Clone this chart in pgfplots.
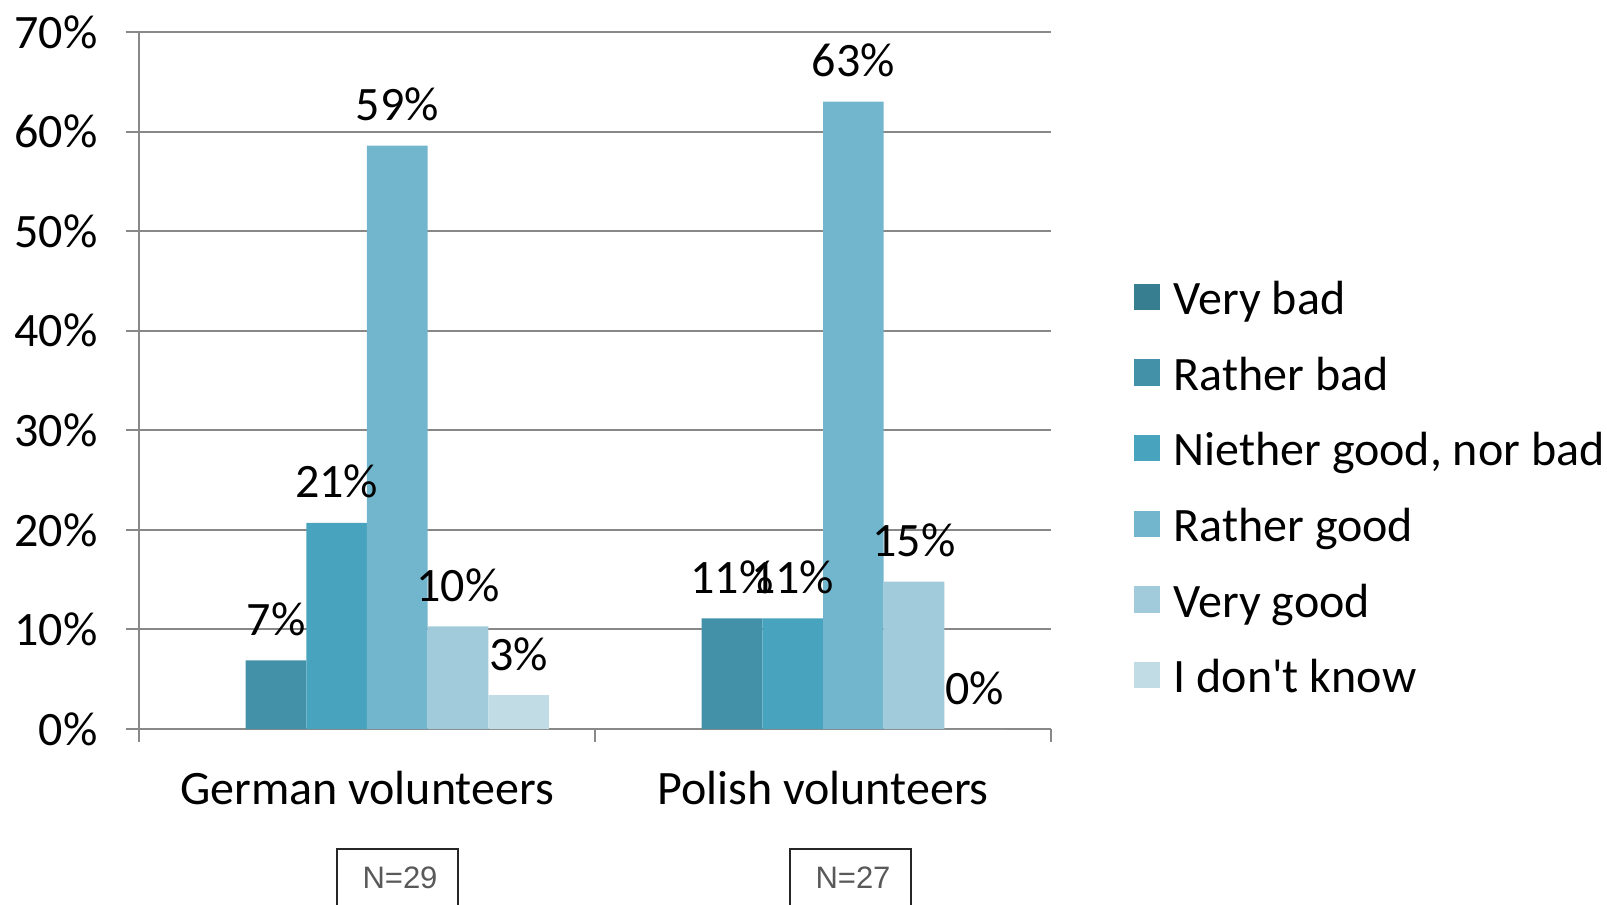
\documentclass[border=0pt]{standalone}
\usepackage{pgfplots}
\pgfplotsset{compat=1.18}
\usepackage{fontspec}
\setmainfont{Carlito}
\newfontfamily\plainf{Carlito}
\newfontfamily\arialf{Liberation Sans}
\definecolor{cVB}{HTML}{377E91}
\definecolor{cRB}{HTML}{4391A9}
\definecolor{cNG}{HTML}{48A4BE}
\definecolor{cRG}{HTML}{71B6CD}
\definecolor{cVG}{HTML}{A1CADB}
\definecolor{cDK}{HTML}{C1DCE5}
\definecolor{axgray}{HTML}{888888}
\definecolor{ngray}{HTML}{595959}
\newcommand{\bigf}{\fontsize{14.4}{16}\selectfont}
\pgfplotsset{
  mybar/.style 2 args={ybar, bar width=18.2pt, bar shift=#2, draw=none, fill=#1,
    point meta=explicit symbolic,
    nodes near coords={\pgfplotspointmeta},
    every node near coord/.append style={anchor=base, xshift=#2, yshift=7.5pt, text=black, font=\bigf},
    legend image code/.code={\fill[#1] (0pt,-2.9pt) rectangle (7.9pt,5.0pt);}},
}
\begin{document}
\begin{tikzpicture}
\useasboundingbox (-41.7pt,-52.5pt) rectangle (440.4pt,218.7pt);
\begin{axis}[
  scale only axis, width=273.6pt, height=209.1pt,
  xmin=-0.5, xmax=1.5, ymin=0, ymax=70,
  axis x line*=bottom, axis y line*=left,
  axis line style={-, draw=axgray, line width=0.6pt},
  every tick/.style={draw=axgray, line width=0.6pt},
  tick align=outside,
  major tick length=4pt,
  minor tick length=4pt,
  ytick={0,10,...,70},
  yticklabel={\pgfmathprintnumber{\tick}\%},
  /pgf/number format/assume math mode=true,
  y tick label style={font=\bigf, inner sep=0pt, xshift=-8.3pt},
  ymajorgrids, grid style={draw=axgray, line width=0.6pt},
  xtick={0,1},
  xticklabels={German volunteers, Polish volunteers},
  major x tick style={draw=none},
  minor xtick={-0.5,0.5,1.5},
  x tick label style={font=\bigf, anchor=base, yshift=-18.6pt, inner sep=0pt},
  clip=false,
  legend style={at={(1.0899,0.3436)}, anchor=west, draw=none, fill=none,
    font=\bigf, inner sep=0pt, row sep=7.2pt, column sep=2.1pt,
    cells={anchor=west, inner sep=0pt, text height=10pt, text depth=3pt}},
  legend cell align=left,
]
\addlegendimage{mybar={cVB}{-45.5pt}}
\addlegendentry{Very bad}
\addplot[mybar={cRB}{-27.3pt}] coordinates {(0,6.9) [7\%] (1,11.1) [11\%]};
\addlegendentry{Rather bad}
\addplot[mybar={cNG}{-9.1pt}] coordinates {(0,20.7) [21\%] (1,11.1) [11\%]};
\addlegendentry{Niether good, nor bad}
\addplot[mybar={cRG}{9.1pt}] coordinates {(0,58.6) [59\%] (1,63.0) [63\%]};
\addlegendentry{Rather good}
\addplot[mybar={cVG}{27.3pt}] coordinates {(0,10.3) [10\%] (1,14.8) [15\%]};
\addlegendentry{Very good}
\addplot[mybar={cDK}{45.5pt}] coordinates {(0,3.4) [3\%] (1,0) [0\%]};
\addlegendentry{I don{\plainf '}t know}
\end{axis}
\draw[line width=0.5pt, draw=black!85] (59.4pt,-36pt) rectangle (95.7pt,-70pt);
\node[font=\arialf\fontsize{9.3}{11}\selectfont, text=ngray] at (78.3pt,-44.7pt) {N=29};
\draw[line width=0.5pt, draw=black!85] (195.3pt,-36pt) rectangle (231.6pt,-70pt);
\node[font=\arialf\fontsize{9.3}{11}\selectfont, text=ngray] at (214.2pt,-44.7pt) {N=27};
\end{tikzpicture}
\end{document}
